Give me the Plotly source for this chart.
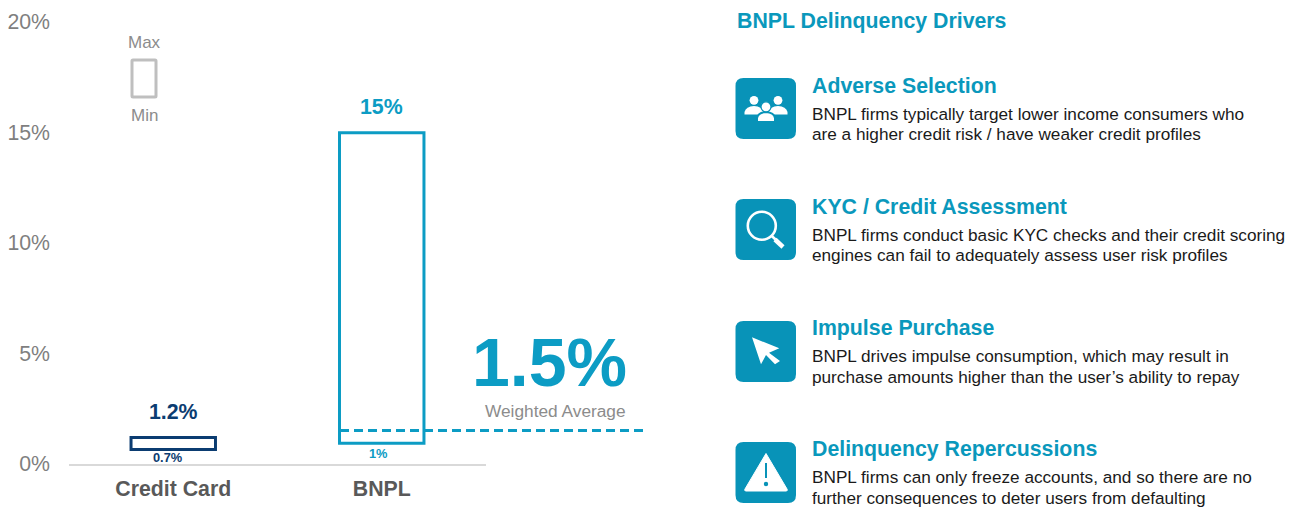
import plotly.graph_objects as go

W, H = 1300, 509
categories = ["Credit Card", "BNPL"]
mins = [0.63, 0.92]
maxs = [1.18, 14.98]
max_labels = ["1.2%", "15%"]
min_labels = ["0.7%", "1%"]
weighted_average = 1.5
y_ticks = [0, 5, 10, 15, 20]
y_tick_labels = ["0%", "5%", "10%", "15%", "20%"]
panel_title = "BNPL Delinquency Drivers"
drivers = ["Adverse Selection", "KYC / Credit Assessment", "Impulse Purchase", "Delinquency Repercussions"]
driver_line1 = [
    "BNPL firms typically target lower income consumers who",
    "BNPL firms conduct basic KYC checks and their credit scoring",
    "BNPL drives impulse consumption, which may result in",
    "BNPL firms can only freeze accounts, and so there are no",
]
driver_line2 = [
    "are a higher credit risk / have weaker credit profiles",
    "engines can fail to adequately assess user risk profiles",
    "purchase amounts higher than the user\u2019s ability to repay",
    "further consequences to deter users from defaulting",
]

FONT = "Liberation Sans, Arial, sans-serif"
NAVY = "#0B3C71"
TEAL = "#0C9CC4"
TILE = "#0893B8"
HEAD = "#0A98BC"
GREY = "#7F7F7F"
DARK = "#595959"
bar_colors = [NAVY, TEAL]

fig = go.Figure()
fig.add_trace(go.Bar(
    x=categories,
    y=[a - b for a, b in zip(maxs, mins)],
    base=mins,
    width=0.405,
    marker=dict(color="rgba(255,255,255,0)", line=dict(color=bar_colors, width=3)),
    hoverinfo="skip",
))

shapes = []
ann = []


def text(x, y, s, size, color, bold=False, anchor="left"):
    ann.append(dict(
        x=x, y=y, xref="x2", yref="y2", text=f"<b>{s}</b>" if bold else s, showarrow=False,
        xanchor=anchor, yanchor="middle", align=anchor, borderpad=0, borderwidth=0,
        font=dict(family=FONT, size=size, color=color),
    ))


def rrect(x0, y0, x1, y1, r):
    return (f"M {x0+r} {y0} L {x1-r} {y0} Q {x1} {y0} {x1} {y0+r} L {x1} {y1-r} Q {x1} {y1} {x1-r} {y1} "
            f"L {x0+r} {y1} Q {x0} {y1} {x0} {y1-r} L {x0} {y0+r} Q {x0} {y0} {x0+r} {y0} Z")


def path(d, fill="white", line=None, width=0):
    shapes.append(dict(type="path", xref="x2", yref="y2", path=d, fillcolor=fill,
                       line=dict(color=line or "rgba(0,0,0,0)", width=width)))


def circle(cx, cy, r, fill="white", line=None, width=0):
    shapes.append(dict(type="circle", xref="x2", yref="y2", x0=cx-r, x1=cx+r, y0=cy-r, y1=cy+r,
                       fillcolor=fill, line=dict(color=line or "rgba(0,0,0,0)", width=width)))


def seg(x0, y0, x1, y1, color="white", width=2):
    shapes.append(dict(type="line", xref="x2", yref="y2", x0=x0, y0=y0, x1=x1, y1=y1,
                       line=dict(color=color, width=width)))


# weighted average line
shapes.append(dict(type="line", xref="x2", yref="y", x0=340, x1=643, y0=weighted_average, y1=weighted_average,
                   line=dict(color=TEAL, width=3, dash="9px,5px")))

# data labels
max_shift = [25.5, 26]
for i, c in enumerate(categories):
    ann.append(dict(x=c, y=maxs[i], xref="x", yref="y", text=f"<b>{max_labels[i]}</b>", showarrow=False,
                    yanchor="middle", yshift=max_shift[i], font=dict(family=FONT, size=21.3, color=bar_colors[i])))
    ann.append(dict(x=c, y=mins[i], xref="x", yref="y", text=f"<b>{min_labels[i]}</b>", showarrow=False,
                    yanchor="middle", xshift=[-5, -3][i], yshift=-[8, 10.5][i],
                    font=dict(family=FONT, size=12.8, color=bar_colors[i])))

# key
text(144, 42, "Max", 17, "#8C8C8C", anchor="center")
text(144, 115, "Min", 17, "#8C8C8C", anchor="center")
path(rrect(132, 60, 156, 97, 1), fill="white", line="#BFBFBF", width=3)

# big number
text(549, 361.5, "<b>1.5%</b>", 68, TEAL, anchor="center")
text(555.5, 411, "Weighted Average", 17.3, "#8C8C8C", anchor="center")

# right panel
text(737, 20.5, panel_title, 21.3, HEAD, bold=True)
tops = [78, 199, 321, 442]
head_y = [85.5, 206.5, 327.5, 448.5]
line1_y = [114, 235, 356, 477]
line2_y = [133.5, 254.5, 376.5, 497.5]
for i, t in enumerate(tops):
    path(rrect(735.5, t, 796, t + 61, 8), fill=TILE)
    text(812, head_y[i], drivers[i], 21.3, HEAD, bold=True)
    text(812, line1_y[i], driver_line1[i], 17.2, "#1A1A1A")
    text(812, line2_y[i], driver_line2[i], 17.2, "#1A1A1A")

# people icon
for cx in (754, 778):
    circle(cx, 100.3, 4.4)
    path(f"M {cx-9.5} 114.5 L {cx-9.5} 112 Q {cx-8} 106.5 {cx} 106 Q {cx+8} 106.5 {cx+9.5} 112 L {cx+9.5} 114.5 Z")
path("M 757 122 L 757 118 Q 758 112.5 766 112 Q 774 112.5 775 118 L 775 122 Z", line=TILE, width=2)
circle(766, 106.8, 5, line=TILE, width=1.2)

# magnifier icon
circle(761.8, 225.7, 14, fill="rgba(0,0,0,0)", line="white", width=2.6)
seg(771.8, 236, 775.5, 239.5, width=2.6)
seg(775, 239.5, 783, 247, width=4.5)

# cursor icon
pts = [(96, 112), (178, 145), (147, 158), (180, 183), (165, 193), (138, 165), (123, 193)]
path("M " + " L ".join(f"{720+x/3:.1f} {300+y/3:.1f}" for x, y in pts) + " Z")

# warning icon
path("M 766 453.5 L 787 489 Q 788 491 786 491 L 746 491 Q 744 491 745 489 Z", line="white", width=1)
seg(766, 463, 766, 478, color=TILE, width=2)
circle(766, 484, 2.2, fill=TILE)

fig.update_layout(
    width=W, height=H, margin=dict(l=0, r=0, t=0, b=0, pad=0, autoexpand=False),
    paper_bgcolor="white", plot_bgcolor="rgba(0,0,0,0)", showlegend=False,
    shapes=shapes, annotations=ann,
    xaxis=dict(domain=[69/W, 486/W], anchor="y", type="category", range=[-0.5, 1.5], showgrid=False,
               showline=True, linecolor="#D9D9D9", linewidth=1.5, ticks="", ticklabelstandoff=5,
               tickfont=dict(family=FONT, size=21.3, color=DARK), fixedrange=True,
               tickvals=categories, ticktext=[f"<b>{c}</b>" for c in categories], automargin=False),
    yaxis=dict(domain=[1-463.5/H, 1-22/H], anchor="x", range=[0, 20], showgrid=False, zeroline=False,
               showline=False, ticks="", ticklabelstandoff=18, tickvals=y_ticks, ticktext=y_tick_labels,
               tickfont=dict(family=FONT, size=21.3, color=GREY), fixedrange=True, automargin=False),
    xaxis2=dict(domain=[0, 1], anchor="y2", range=[0, W], visible=False, fixedrange=True),
    yaxis2=dict(domain=[0, 1], anchor="x2", range=[H, 0], visible=False, fixedrange=True),
)
fig.add_trace(go.Scatter(x=[0], y=[0], xaxis="x2", yaxis="y2", mode="markers",
                         marker=dict(opacity=0), hoverinfo="skip"))
fig.write_html("out.html", config=dict(displayModeBar=False), post_script="document.body.style.margin='0';")
